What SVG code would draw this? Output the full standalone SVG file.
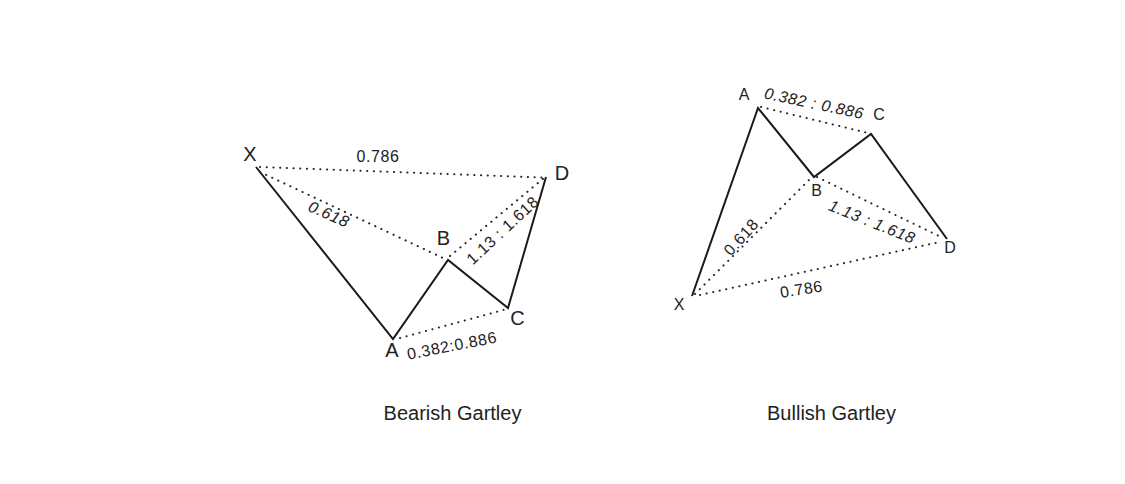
<svg xmlns="http://www.w3.org/2000/svg" width="1125" height="484" viewBox="0 0 1125 484">
<style>
.bg{fill:#ffffff}
.solid{fill:none;stroke:#1a1a1a;stroke-width:2;stroke-linejoin:miter}
.dot{fill:none;stroke:#222;stroke-width:2;stroke-linecap:round;stroke-dasharray:0.2 6.5}
text{font-family:"Liberation Sans",Arial,Helvetica,sans-serif;fill:#222}
.pt{font-size:20px;text-anchor:middle}
.pts{font-size:16px;text-anchor:middle}
.lbl{font-size:16px;text-anchor:middle;letter-spacing:0.6px}
.title{font-size:20px;text-anchor:middle}
</style>
<rect class="bg" x="0" y="0" width="1125" height="484"/>
<g id="connectors">
  <!-- Bearish -->
  <polyline class="solid" points="256,167 393,339 448,260 508,308 546,177"/>
  <line class="dot" x1="260" y1="167" x2="543" y2="177.5"/>
  <line class="dot" x1="260" y1="172" x2="443" y2="258"/>
  <line class="dot" x1="450" y1="256" x2="544" y2="178"/>
  <line class="dot" x1="400" y1="338" x2="507" y2="309"/>
  <!-- Bullish -->
  <polyline class="solid" points="692,296 758,108 814,177 871,134 947,239"/>
  <line class="dot" x1="761" y1="107" x2="868" y2="133"/>
  <line class="dot" x1="695" y1="294" x2="811" y2="178"/>
  <line class="dot" x1="817" y1="177" x2="943" y2="238"/>
  <line class="dot" x1="700" y1="295" x2="942" y2="241.5"/>
</g>
<g id="bearish-gartley">
  <g id="bear-X"><text class="pt" x="250" y="161">X</text></g>
  <g id="bear-A"><text class="pt" x="392" y="357">A</text></g>
  <g id="bear-B"><text class="pt" x="443.5" y="245">B</text></g>
  <g id="bear-C"><text class="pt" x="517.5" y="325">C</text></g>
  <g id="bear-D"><text class="pt" x="562" y="180">D</text></g>
  <text class="lbl" x="378" y="162">0.786</text>
  <text class="lbl" font-style="italic" transform="translate(326.7,219.2) rotate(24)">0.618</text>
  <text class="lbl" transform="translate(506.4,234.2) rotate(-43)">1.13 : 1.618</text>
  <text class="lbl" transform="translate(453,351) rotate(-11)">0.382:0.886</text>
  <text class="title" x="452.5" y="420">Bearish Gartley</text>
</g>
<g id="bullish-gartley">
  <g id="bull-X"><text class="pts" x="679" y="310">X</text></g>
  <g id="bull-A"><text class="pts" x="744" y="100">A</text></g>
  <g id="bull-B"><text class="pts" x="816.7" y="195.7">B</text></g>
  <g id="bull-C"><text class="pts" x="879" y="120">C</text></g>
  <g id="bull-D"><text class="pts" x="950" y="252.7">D</text></g>
  <text class="lbl" font-style="italic" transform="translate(813,108.7) rotate(12)">0.382 : 0.886</text>
  <text class="lbl" font-style="italic" transform="translate(870,227) rotate(22)">1.13 : 1.618</text>
  <text class="lbl" transform="translate(745.2,240.8) rotate(-48)">0.618</text>
  <text class="lbl" transform="translate(802.2,294.6) rotate(-9)">0.786</text>
  <text class="title" x="831.5" y="420">Bullish Gartley</text>
</g>
</svg>
